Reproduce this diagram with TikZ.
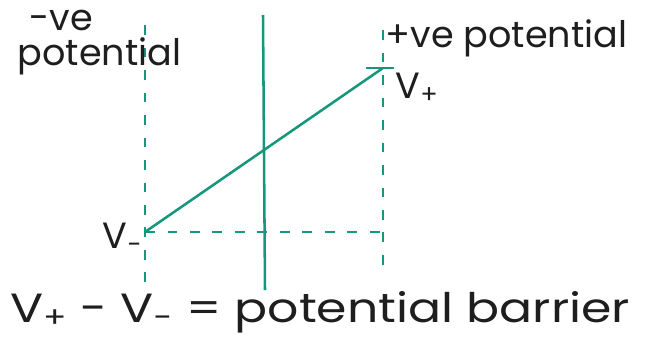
\documentclass[tikz,border=0pt]{standalone}
\usepackage{fontspec}
\setmainfont{Poppins}
\usetikzlibrary{positioning, calc}
\definecolor{LineTeal}{RGB}{22,150,124}
\definecolor{InkDark}{HTML}{1E1E1E}
\tikzset{
    guide/.style={dashed, dash pattern=on 7pt off 9pt, line width=1.8pt, draw=LineTeal},
    solidline/.style={line width=1.8pt, draw=LineTeal},
    lbl/.style={font=\fontsize{26}{28}\selectfont, text=InkDark, inner sep=1pt},
    biglbl/.style={font=\fontsize{29}{31}\selectfont, text=InkDark, inner sep=1pt}
}
\begin{document}
\begin{tikzpicture}[x=0.025cm, y=-0.025cm]
    \useasboundingbox (0,0) rectangle (645,337);

    % --- POINTS ---
    \coordinate (vminus) at (145, 232);
    \coordinate (vplus) at (383, 68);
    \coordinate (lefttop) at (145, 25);
    \coordinate (leftbot) at (145, 285);
    \coordinate (righttop) at (383, 30);
    \coordinate (rightbot) at (383, 265);
    \coordinate (midtop) at (263, 15);
    \coordinate (midbot) at (265, 290);
    \coordinate (tickl) at (366, 68);
    \coordinate (tickr) at (394, 68);

    % --- GUIDES ---
    \draw[guide] (lefttop) -- (leftbot);
    \draw[guide] (righttop) -- (rightbot);
    \draw[guide] (vminus) -- (vminus -| rightbot);

    % --- BARRIER AND SLOPE ---
    \draw[solidline] (midtop) -- (midbot);
    \draw[solidline] (vminus) -- (vplus);
    \draw[solidline] (tickl) -- (tickr);

    % --- LABELS ---
    \node[lbl, anchor=west] (negsign) at (28, 20) {-ve};
    \node[lbl, anchor=west] (negpot) at (16, 56) {potential};
    \node[lbl, anchor=west] (pospot) at (384, 38) {+ve potential};
    \node[lbl, anchor=west] (vplabel) at (394, 88) {V\textsubscript{+}};
    \node[lbl, anchor=east] (vmlabel) at (144, 238) {V\textsubscript{-}};
    \node[biglbl, anchor=west, xscale=1.2, transform shape] (barrier) at (8, 312) {V\textsubscript{+} - V\textsubscript{-} = potential barrier};
\end{tikzpicture}
\end{document}
